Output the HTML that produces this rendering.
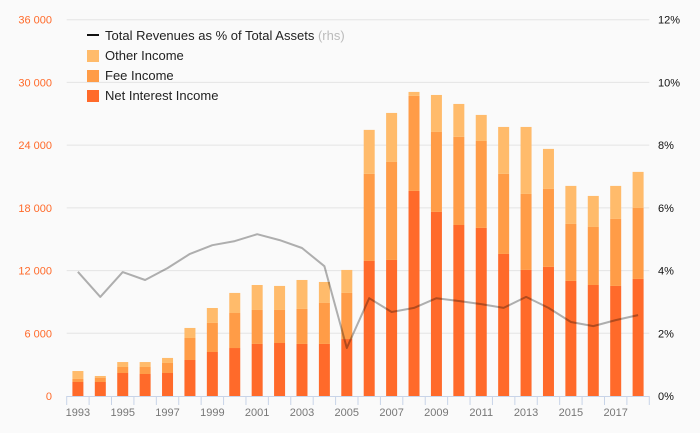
<!DOCTYPE html>
<html><head><meta charset="utf-8"><style>
html,body{margin:0;padding:0;background:#fafafa}
svg{display:block;font-family:"Liberation Sans",sans-serif}
</style></head><body>
<svg id="chart" width="700" height="433" viewBox="0 0 700 433">
<rect width="700" height="433" fill="#fafafa"/>
<g id="grid"></g><g id="bars"></g><g id="line"></g><g id="axes"></g>
<g id="legend">
 <line x1="87" y1="35" x2="99" y2="35" stroke="#111" stroke-width="2"/>
 <text x="105" y="40" font-size="13" fill="#222">Total Revenues as % of Total Assets <tspan fill="#bbb">(rhs)</tspan></text>
 <rect x="87" y="50" width="12" height="12" fill="#ffbb6b"/>
 <text x="105" y="60" font-size="13" fill="#222">Other Income</text>
 <rect x="87" y="70" width="12" height="12" fill="#ff9c47"/>
 <text x="105" y="80" font-size="13" fill="#222">Fee Income</text>
 <rect x="87" y="90" width="12" height="12" fill="#ff6a2a"/>
 <text x="105" y="100" font-size="13" fill="#222">Net Interest Income</text>
</g>
</svg>
<script>
const years=[1993,1994,1995,1996,1997,1998,1999,2000,2001,2002,2003,2004,2005,2006,2007,2008,2009,2010,2011,2012,2013,2014,2015,2016,2017,2018];
const netInterest=[1340,1340,2200,2105,2200,3445,4210,4590,4980,5070,4980,4980,5450,12920,13015,19620,17610,16360,16080,13590,12060,12350,11010,10620,10530,11200];
const feeIncome=[290,415,575,670,960,2105,2780,3350,3250,3160,3350,3920,4410,8330,9375,9090,7650,8430,8320,7660,7270,7460,5450,5550,6410,6790];
const otherIncome=[760,160,475,475,480,960,1430,1920,2390,2300,2770,2010,2200,4210,4690,380,3540,3150,2490,4490,6410,3830,3640,2970,3160,3450];
const ratioPct=[3.96,3.16,3.95,3.70,4.08,4.53,4.81,4.94,5.16,4.97,4.72,4.14,1.53,3.12,2.68,2.81,3.12,3.03,2.93,2.81,3.16,2.81,2.36,2.23,2.42,2.58];
const leftTicks=[0,6000,12000,18000,24000,30000,36000];
const leftTickLabels=["0","6 000","12 000","18 000","24 000","30 000","36 000"];
const rightTickLabels=["0%","2%","4%","6%","8%","10%","12%"];
const rightTicks=[0,2,4,6,8,10,12];

const NS="http://www.w3.org/2000/svg";
const X0=66.7,X1=649.3,Y0=396,Y1=19.7;
const band=(X1-X0)/years.length;
const xC=i=>X0+band*(i+0.5);
const yL=v=>Y0-(v/36000)*(Y0-Y1);
const yR=p=>Y0-(p/12)*(Y0-Y1);
function mk(tag,attrs,parent){const e=document.createElementNS(NS,tag);for(const k in attrs)e.setAttribute(k,attrs[k]);document.getElementById(parent).appendChild(e);return e;}

leftTicks.forEach((t,i)=>{
  if(t>0){const g=mk('line',{x1:X0,x2:X1,y1:yL(t),y2:yL(t),stroke:'#e4e4e4','stroke-width':1},'grid');
  
  }
  const l=mk('text',{x:52,y:yL(t)+4,'text-anchor':'end','font-size':11,fill:'#ff6a2a'},'axes');l.textContent=leftTickLabels[i];
  
  
});
rightTicks.forEach((t,i)=>{
  const l=mk('text',{x:658,y:yR(t)+4,'font-size':11,fill:'#111'},'axes');l.textContent=rightTickLabels[i];
  
  
});
const ax=mk('line',{x1:X0,x2:X1,y1:Y0+0.5,y2:Y0+0.5,stroke:'#c8d4e8','stroke-width':1},'axes');


for(let i=0;i<=years.length;i++){
  const tk=mk('line',{x1:X0+band*i,x2:X0+band*i,y1:Y0,y2:Y0+9,stroke:'#c8d4e8','stroke-width':1},'axes');
  
  
}
years.forEach((yr,i)=>{
  if(i%2===0){const l=mk('text',{x:xC(i),y:416,'text-anchor':'middle','font-size':11,fill:'#777'},'axes');l.textContent=yr;
  
  }
  const w=11,x=xC(i)-w/2;
  const a=netInterest[i],b=a+feeIncome[i],c=b+otherIncome[i];
  const r1=mk('rect',{x:x,width:w,y:yL(a),height:Y0-yL(a),fill:'#ff6a2a'},'bars');
  
  
  const r2=mk('rect',{x:x,width:w,y:yL(b),height:yL(a)-yL(b),fill:'#ff9c47'},'bars');
  
  
  const r3=mk('rect',{x:x,width:w,y:yL(c),height:yL(b)-yL(c),fill:'#ffbb6b'},'bars');
  
  
});
const pts=ratioPct.map((p,i)=>xC(i).toFixed(1)+','+yR(p).toFixed(1)).join(' ');
const pl=mk('polyline',{points:pts,fill:'none',stroke:'rgba(0,0,0,0.3)','stroke-width':2,'stroke-linejoin':'round'},'line');


</script>
</body></html>
